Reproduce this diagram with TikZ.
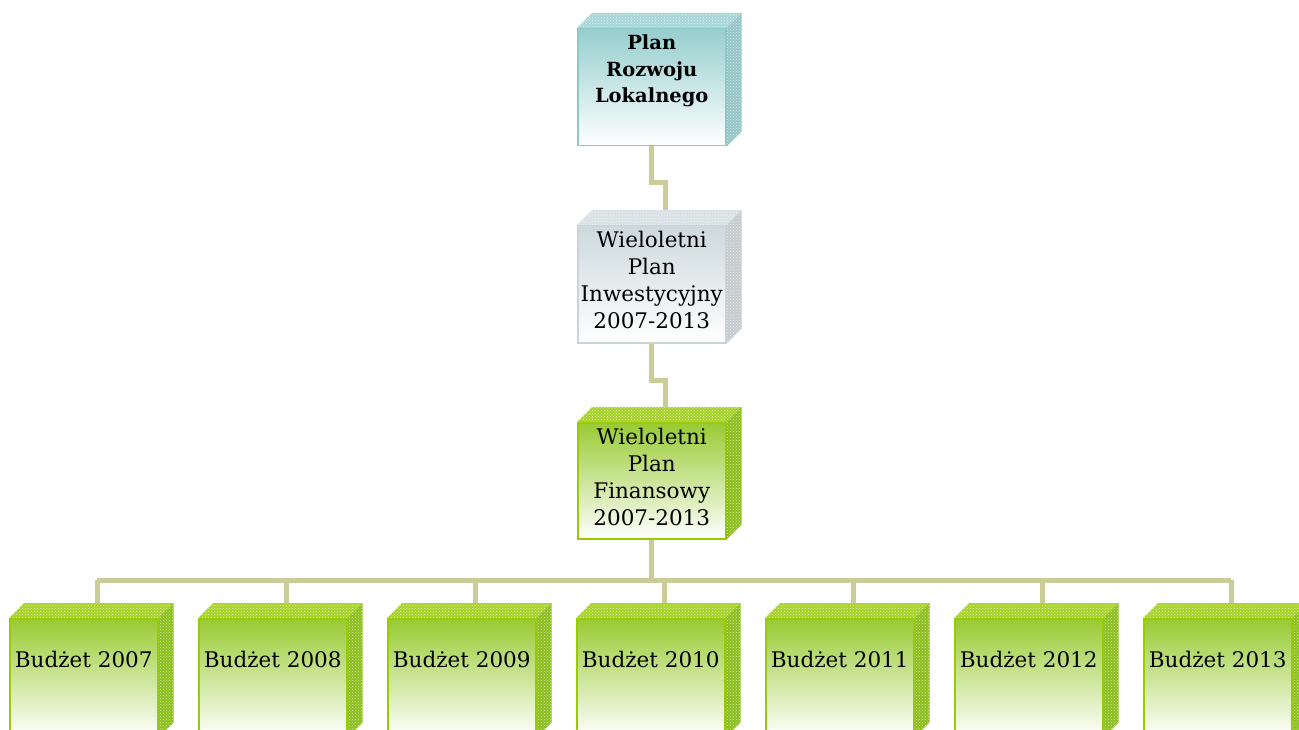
\documentclass[tikz,border=0pt]{standalone}
\usepackage{fontspec}
\setmainfont{DejaVu Serif}
\usetikzlibrary{calc,patterns}
\definecolor{conncol}{RGB}{204,204,153}
% teal scheme
\definecolor{tealA}{RGB}{150,206,206}
\definecolor{tealL}{RGB}{140,200,200}
\definecolor{tealT}{RGB}{165,214,214}
\definecolor{tealS}{RGB}{150,198,198}
% grey scheme
\definecolor{greyA}{RGB}{204,217,221}
\definecolor{greyL}{RGB}{200,212,216}
\definecolor{greyT}{RGB}{216,225,228}
\definecolor{greyS}{RGB}{196,204,206}
% green scheme
\definecolor{grnA}{RGB}{152,203,50}
\definecolor{grnL}{RGB}{153,204,0}
\definecolor{grnT}{RGB}{166,210,40}
\definecolor{grnS}{RGB}{140,190,30}
\tikzset{
  conn/.style={draw=conncol, line width=5pt, line join=miter},
  face/.style={rectangle, inner sep=0pt, minimum width=148pt, line width=1.5pt, anchor=north west},
  txt/.style={align=center, font=\fontsize{21.5}{27}\selectfont, inner sep=0pt, anchor=base},
}
\newcommand\drawcube[5]{%
  \node[face, minimum height=#4pt, top color=#5A, bottom color=white, draw=#5L] (#1) at (#2,#3) {};
  \fill[#5T] (#1.north west) -- ++(15,-15) -- ($(#1.north east)+(15,-15)$) -- (#1.north east) -- cycle;
  \fill[pattern=crosshatch dots, pattern color=white!70!#5T] (#1.north west) -- ++(15,-15) -- ($(#1.north east)+(15,-15)$) -- (#1.north east) -- cycle;
  \fill[#5S] (#1.north east) -- ++(15,-15) -- ($(#1.south east)+(15,-15)$) -- (#1.south east) -- cycle;
  \fill[pattern=crosshatch dots, pattern color=white!60!#5S] (#1.north east) -- ++(15,-15) -- ($(#1.south east)+(15,-15)$) -- (#1.south east) -- cycle;
}
\begin{document}
\begin{tikzpicture}[x=1pt,y=-1pt]
\useasboundingbox (0,0) rectangle (1299,730);
\clip (0,0) rectangle (1299,730);
\fill[white] (0,0) rectangle (1299,730);
% upper connectors (drawn first, boxes cover their ends)
\draw[conn] (651,145) -- (651,183) -| (665,210);
\draw[conn] (651,342) -- (651,380) -| (665,407);
% boxes
\drawcube{b1}{577}{28}{117}{teal}
\drawcube{b2}{577}{225}{117}{grey}
\drawcube{b3}{577}{422}{116}{grn}
% bus
\draw[conn] (b3.south) -- ++(0,42) coordinate (hub);
\coordinate (busL) at (97,580);
\coordinate (busR) at (1231,580);
\draw[conn] (busL) -- (busR);
\foreach \k in {0,...,6}{
  \draw[conn] ($(busL)+(189*\k,0)$) -- ++(0,23);
}
\foreach \k/\yr in {0/2007,1/2008,2/2009,3/2010,4/2011,5/2012,6/2013}{
  \drawcube{y\k}{9+189*\k}{618}{118}{grn}
  \node[txt] (ty\k) at ($(y\k.north)+(0,49)$) {Budżet \yr};
}
\node[txt, font=\fontsize{19.5}{26.5}\selectfont\bfseries] (t1) at ($(b1.north)+(0,75)$) {Plan\\Rozwoju\\Lokalnego};
\node[txt] (t2) at ($(b2.north)+(0,103)$) {Wieloletni\\Plan\\Inwestycyjny\\2007-2013};
\node[txt] (t3) at ($(b3.north)+(0,103)$) {Wieloletni\\Plan\\Finansowy\\2007-2013};
\end{tikzpicture}
\end{document}
